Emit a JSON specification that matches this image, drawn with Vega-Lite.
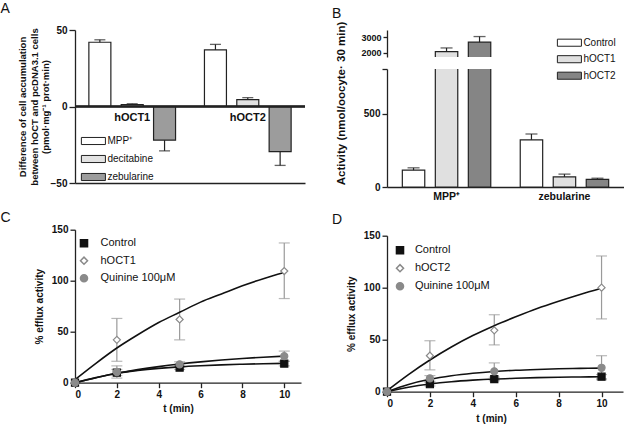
{
  "$schema": "https://vega.github.io/schema/vega-lite/v6.json",
  "padding": {"left": 0, "top": 2, "right": 0, "bottom": 0},
  "config": {
    "view": {"stroke": null},
    "font": "Liberation Sans",
    "axis": {"grid": false, "domainColor": "#222", "domainWidth": 1.3, "tickColor": "#222", "tickWidth": 1.3, "tickSize": 5, "labelFont": "Liberation Sans", "labelFontSize": 10, "labelFontWeight": "bold", "labelColor": "#111", "labelPadding": 2, "titleFont": "Liberation Sans", "titleFontSize": 10, "titleFontWeight": "bold", "titleColor": "#111"},
    "legend": {"labelFont": "Liberation Sans", "labelFontSize": 10, "labelColor": "#111", "padding": 0, "titlePadding": 0},
    "title": {"font": "Liberation Sans", "fontSize": 14, "fontWeight": "normal", "anchor": "start", "frame": "group", "color": "#111"}
  },
  "datasets": {
    "panelA": [
      {"group": "hOCT1", "compound": "MPP⁺", "value": 42, "err": 43.6},
      {"group": "hOCT1", "compound": "decitabine", "value": 1.2, "err": 1.8},
      {"group": "hOCT1", "compound": "zebularine", "value": -22, "err": -29},
      {"group": "hOCT2", "compound": "MPP⁺", "value": 37, "err": 40.6},
      {"group": "hOCT2", "compound": "decitabine", "value": 4.5, "err": 5.8},
      {"group": "hOCT2", "compound": "zebularine", "value": -29.5, "err": -38.5}
    ],
    "panelB": [
      {"compound": "MPP⁺", "cond": "Control", "value": 115, "err": 131},
      {"compound": "MPP⁺", "cond": "hOCT1", "value": 2070, "err": 2310},
      {"compound": "MPP⁺", "cond": "hOCT2", "value": 2680, "err": 3040},
      {"compound": "zebularine", "cond": "Control", "value": 322, "err": 362},
      {"compound": "zebularine", "cond": "hOCT1", "value": 69, "err": 88},
      {"compound": "zebularine", "cond": "hOCT2", "value": 52, "err": 60}
    ],
    "pointsC": [
      {"t": 0, "series": "Control", "mean": 0, "lo": null, "hi": null},
      {"t": 2, "series": "Control", "mean": 9.8, "lo": 7, "hi": 13},
      {"t": 5, "series": "Control", "mean": 14.8, "lo": 13, "hi": 17},
      {"t": 10, "series": "Control", "mean": 18.8, "lo": 16.5, "hi": 21},
      {"t": 0, "series": "hOCT1", "mean": 0, "lo": null, "hi": null},
      {"t": 2, "series": "hOCT1", "mean": 42, "lo": 21, "hi": 63},
      {"t": 5, "series": "hOCT1", "mean": 62, "lo": 42, "hi": 82},
      {"t": 10, "series": "hOCT1", "mean": 109.5, "lo": 82.5, "hi": 137},
      {"t": 0, "series": "Quinine 100μM", "mean": 0, "lo": null, "hi": null},
      {"t": 2, "series": "Quinine 100μM", "mean": 10.5, "lo": 4.5, "hi": 16.5},
      {"t": 5, "series": "Quinine 100μM", "mean": 18, "lo": 15.5, "hi": 20.5},
      {"t": 10, "series": "Quinine 100μM", "mean": 26, "lo": 21, "hi": 31}
    ],
    "curvesC": [
      {"t": 0, "series": "Control", "y": 0}, {"t": 1, "series": "Control", "y": 5}, {"t": 2, "series": "Control", "y": 9.3}, {"t": 3, "series": "Control", "y": 12}, {"t": 4, "series": "Control", "y": 14}, {"t": 5, "series": "Control", "y": 15.5}, {"t": 6, "series": "Control", "y": 16.6}, {"t": 7, "series": "Control", "y": 17.5}, {"t": 8, "series": "Control", "y": 18.1}, {"t": 9, "series": "Control", "y": 18.6}, {"t": 10, "series": "Control", "y": 19},
      {"t": 0, "series": "Quinine 100μM", "y": 0}, {"t": 1, "series": "Quinine 100μM", "y": 4.8}, {"t": 2, "series": "Quinine 100μM", "y": 9.2}, {"t": 3, "series": "Quinine 100μM", "y": 12.8}, {"t": 4, "series": "Quinine 100μM", "y": 15.8}, {"t": 5, "series": "Quinine 100μM", "y": 18.3}, {"t": 6, "series": "Quinine 100μM", "y": 20.4}, {"t": 7, "series": "Quinine 100μM", "y": 22.2}, {"t": 8, "series": "Quinine 100μM", "y": 23.7}, {"t": 9, "series": "Quinine 100μM", "y": 25}, {"t": 10, "series": "Quinine 100μM", "y": 26.1},
      {"t": 0, "series": "hOCT1", "y": 3}, {"t": 1, "series": "hOCT1", "y": 19}, {"t": 2, "series": "hOCT1", "y": 34}, {"t": 3, "series": "hOCT1", "y": 47}, {"t": 4, "series": "hOCT1", "y": 59}, {"t": 5, "series": "hOCT1", "y": 69}, {"t": 6, "series": "hOCT1", "y": 79}, {"t": 7, "series": "hOCT1", "y": 87}, {"t": 8, "series": "hOCT1", "y": 95}, {"t": 9, "series": "hOCT1", "y": 102}, {"t": 10, "series": "hOCT1", "y": 108}
    ],
    "pointsD": [
      {"t": 0, "series": "Control", "mean": 0, "lo": null, "hi": null},
      {"t": 2, "series": "Control", "mean": 7.2, "lo": 5.5, "hi": 9},
      {"t": 5, "series": "Control", "mean": 12.2, "lo": 10.5, "hi": 14},
      {"t": 10, "series": "Control", "mean": 14.4, "lo": 12.5, "hi": 16.5},
      {"t": 0, "series": "hOCT2", "mean": 0, "lo": null, "hi": null},
      {"t": 2, "series": "hOCT2", "mean": 34.6, "lo": 21, "hi": 49},
      {"t": 5, "series": "hOCT2", "mean": 59, "lo": 45, "hi": 74},
      {"t": 10, "series": "hOCT2", "mean": 100, "lo": 70, "hi": 130.5},
      {"t": 0, "series": "Quinine 100μM", "mean": 0, "lo": null, "hi": null},
      {"t": 2, "series": "Quinine 100μM", "mean": 12.8, "lo": 10, "hi": 15.5},
      {"t": 5, "series": "Quinine 100μM", "mean": 19.6, "lo": 11.5, "hi": 27.7},
      {"t": 10, "series": "Quinine 100μM", "mean": 23, "lo": 11.5, "hi": 34.6}
    ],
    "curvesD": [
      {"t": 0, "series": "Control", "y": 0}, {"t": 1, "series": "Control", "y": 4.3}, {"t": 2, "series": "Control", "y": 7.4}, {"t": 3, "series": "Control", "y": 9.6}, {"t": 4, "series": "Control", "y": 11.1}, {"t": 5, "series": "Control", "y": 12.2}, {"t": 6, "series": "Control", "y": 12.9}, {"t": 7, "series": "Control", "y": 13.5}, {"t": 8, "series": "Control", "y": 13.9}, {"t": 9, "series": "Control", "y": 14.2}, {"t": 10, "series": "Control", "y": 14.4},
      {"t": 0, "series": "Quinine 100μM", "y": 0}, {"t": 1, "series": "Quinine 100μM", "y": 7}, {"t": 2, "series": "Quinine 100μM", "y": 11.9}, {"t": 3, "series": "Quinine 100μM", "y": 15.3}, {"t": 4, "series": "Quinine 100μM", "y": 17.7}, {"t": 5, "series": "Quinine 100μM", "y": 19.4}, {"t": 6, "series": "Quinine 100μM", "y": 20.6}, {"t": 7, "series": "Quinine 100μM", "y": 21.4}, {"t": 8, "series": "Quinine 100μM", "y": 22}, {"t": 9, "series": "Quinine 100μM", "y": 22.4}, {"t": 10, "series": "Quinine 100μM", "y": 22.7},
      {"t": 0, "series": "hOCT2", "y": 1}, {"t": 1, "series": "hOCT2", "y": 16.5}, {"t": 2, "series": "hOCT2", "y": 30.5}, {"t": 3, "series": "hOCT2", "y": 43}, {"t": 4, "series": "hOCT2", "y": 54}, {"t": 5, "series": "hOCT2", "y": 63.5}, {"t": 6, "series": "hOCT2", "y": 72}, {"t": 7, "series": "hOCT2", "y": 80}, {"t": 8, "series": "hOCT2", "y": 87}, {"t": 9, "series": "hOCT2", "y": 93.5}, {"t": 10, "series": "hOCT2", "y": 99.5}
    ]
  },
  "spacing": 26,
  "resolve": {"scale": {"x": "independent", "y": "independent", "xOffset": "independent", "fill": "independent", "shape": "independent", "stroke": "independent"}, "legend": {"fill": "independent", "shape": "independent", "stroke": "independent"}},
  "hconcat": [
    {
      "spacing": 22.7,
      "resolve": {"scale": {"x": "independent", "y": "independent", "xOffset": "independent", "fill": "independent", "shape": "independent", "stroke": "independent"}, "legend": {"fill": "independent", "shape": "independent", "stroke": "independent"}},
      "vconcat": [
        {
          "width": 230, "height": 153,
          "title": {"text": "A", "dx": -74.5, "offset": 9},
          "data": {"name": "panelA"},
          "layer": [
            {
              "mark": {"type": "bar", "stroke": "#222", "strokeWidth": 1.2},
              "encoding": {
                "x": {"field": "group", "type": "nominal", "scale": {"paddingInner": 0.25, "paddingOuter": 0.12}, "axis": {"labels": false, "ticks": false, "title": null}},
                "xOffset": {"field": "compound", "type": "nominal", "scale": {"domain": ["MPP⁺", "decitabine", "zebularine"], "paddingInner": 0.32, "paddingOuter": 0}},
                "y": {"field": "value", "type": "quantitative", "scale": {"domain": [-50, 50], "nice": false}, "axis": {"values": [-50, -25, 0, 25, 50], "title": ["Difference of cell accumulation", "between hOCT and pcDNA3.1 cells", "(pmol·mg⁻¹ prot·min)"], "titleFontSize": 9.5, "titleLineHeight": 11.5, "titleX": -52.5, "titleY": 76.5, "titleAlign": "center", "titleBaseline": "middle", "titleAngle": 270, "tickSize": 6}},
                "fill": {"field": "compound", "type": "nominal", "scale": {"domain": ["MPP⁺", "decitabine", "zebularine"], "range": ["#ffffff", "#e2e2e2", "#9c9c9c"]}, "legend": {"title": null, "orient": "none", "legendX": 10.4, "legendY": 103, "symbolType": "M-1.7,-0.5H1.7V0.5H-1.7Z", "symbolSize": 200, "symbolStrokeColor": "#222", "symbolStrokeWidth": 1, "labelOffset": 6, "rowPadding": 4}}
              }
            },
            {
              "mark": {"type": "rule", "color": "#222", "strokeWidth": 1.2},
              "encoding": {
                "x": {"field": "group", "type": "nominal"},
                "xOffset": {"field": "compound", "type": "nominal"},
                "y": {"field": "value", "type": "quantitative"},
                "y2": {"field": "err"}
              }
            },
            {
              "mark": {"type": "tick", "orient": "horizontal", "color": "#222", "size": 11, "thickness": 1.3},
              "encoding": {
                "x": {"field": "group", "type": "nominal"},
                "xOffset": {"field": "compound", "type": "nominal"},
                "y": {"field": "err", "type": "quantitative"}
              }
            },
            {
              "mark": {"type": "rule", "color": "#222", "strokeWidth": 1.3},
              "encoding": {"y": {"datum": 0}}
            },
            {
              "data": {"values": [{"group": "hOCT1"}, {"group": "hOCT2"}]},
              "mark": {"type": "text", "fontWeight": "bold", "fontSize": 11, "baseline": "top", "dy": 5, "color": "#111"},
              "encoding": {"x": {"field": "group", "type": "nominal"}, "y": {"datum": 0}, "text": {"field": "group"}}
            }
          ]
        },
        {
          "width": 226, "height": 153,
          "title": {"text": "C", "dx": -74.5, "offset": 0},
          "layer": [
            {
              "data": {"name": "pointsC"},
              "mark": {"type": "rule", "color": "#9a9a9a", "strokeWidth": 1.2},
              "encoding": {
                "x": {"field": "t", "type": "quantitative", "title": "t (min)", "scale": {"domain": [0, 10.8], "nice": false}, "axis": {"values": [0, 2, 4, 6, 8, 10], "titleX": 103, "titleY": 26, "titleBaseline": "middle", "titleAlign": "center"}},
                "y": {"field": "lo", "type": "quantitative", "title": "% efflux activity", "scale": {"domain": [0, 150], "nice": false}, "axis": {"values": [0, 50, 100, 150], "titleX": -36, "titleY": 76.5, "titleAlign": "center", "titleBaseline": "middle", "titleAngle": 270}},
                "y2": {"field": "hi"}
              }
            },
            {
              "data": {"name": "pointsC"},
              "mark": {"type": "tick", "orient": "horizontal", "color": "#9a9a9a", "size": 11, "thickness": 1.2},
              "encoding": {"x": {"field": "t", "type": "quantitative", "title": "t (min)"}, "y": {"field": "hi", "type": "quantitative", "title": "% efflux activity"}}
            },
            {
              "data": {"name": "pointsC"},
              "mark": {"type": "tick", "orient": "horizontal", "color": "#9a9a9a", "size": 11, "thickness": 1.2},
              "encoding": {"x": {"field": "t", "type": "quantitative", "title": "t (min)"}, "y": {"field": "lo", "type": "quantitative", "title": "% efflux activity"}}
            },
            {
              "data": {"name": "curvesC"},
              "mark": {"type": "line", "color": "#111", "strokeWidth": 1.6, "interpolate": "monotone"},
              "encoding": {"x": {"field": "t", "type": "quantitative", "title": "t (min)"}, "y": {"field": "y", "type": "quantitative", "title": "% efflux activity"}, "detail": {"field": "series"}}
            },
            {
              "data": {"name": "pointsC"},
              "mark": {"type": "point", "filled": true, "opacity": 1, "strokeWidth": 1.2, "size": 50},
              "encoding": {
                "x": {"field": "t", "type": "quantitative", "title": "t (min)"},
                "y": {"field": "mean", "type": "quantitative", "title": "% efflux activity"},
                "shape": {"field": "series", "type": "nominal", "scale": {"domain": ["Control", "hOCT1", "Quinine 100μM"], "range": ["square", "diamond", "circle"]}, "legend": {"title": null, "orient": "none", "legendX": 3.5, "legendY": 8, "symbolSize": 50, "labelOffset": 11, "rowPadding": 2.5, "labelFontSize": 11}},
                "fill": {"field": "series", "type": "nominal", "scale": {"domain": ["Control", "hOCT1", "Quinine 100μM"], "range": ["#111111", "#ffffff", "#8a8a8a"]}, "legend": {"title": null, "orient": "none", "legendX": 3.5, "legendY": 8, "symbolSize": 50, "labelOffset": 11, "rowPadding": 2.5, "labelFontSize": 11}},
                "stroke": {"field": "series", "type": "nominal", "scale": {"domain": ["Control", "hOCT1", "Quinine 100μM"], "range": ["#111111", "#8a8a8a", "#8a8a8a"]}, "legend": {"title": null, "orient": "none", "legendX": 3.5, "legendY": 8, "symbolSize": 50, "labelOffset": 11, "rowPadding": 2.5, "labelFontSize": 11}}
              }
            }
          ]
        }
      ]
    },
    {
      "spacing": 10.7,
      "resolve": {"scale": {"x": "independent", "y": "independent", "xOffset": "independent", "fill": "independent", "shape": "independent", "stroke": "independent"}, "legend": {"fill": "independent", "shape": "independent", "stroke": "independent"}},
      "vconcat": [
        {
          "spacing": 12,
          "bounds": "flush",
          "resolve": {"scale": {"x": "independent", "y": "independent", "xOffset": "independent", "fill": "independent"}, "legend": {"fill": "independent"}},
          "vconcat": [
            {
              "width": 237, "height": 27,
              "title": {"text": "B", "dx": -55, "offset": 9},
              "data": {"name": "panelB"},
              "layer": [
                {
                  "mark": {"type": "bar", "stroke": "#222", "strokeWidth": 1.2, "clip": true},
                  "encoding": {
                    "x": {"field": "compound", "type": "nominal", "scale": {"paddingInner": 0.25, "paddingOuter": 0.13}, "axis": null},
                    "xOffset": {"field": "cond", "type": "nominal", "scale": {"domain": ["Control", "hOCT1", "hOCT2"], "paddingInner": 0.32, "paddingOuter": 0}},
                    "y": {"field": "value", "type": "quantitative", "scale": {"domain": [1730, 3460], "nice": false, "zero": false}, "axis": {"values": [2000, 3000], "format": "d", "title": null, "labelFontSize": 9, "tickSize": 4}},
                    "y2": {"datum": 0},
                    "fill": {"field": "cond", "type": "nominal", "scale": {"domain": ["Control", "hOCT1", "hOCT2"], "range": ["#ffffff", "#e0e0e0", "#858585"]}, "legend": null}
                  }
                },
                {
                  "mark": {"type": "rule", "color": "#222", "strokeWidth": 1.2, "clip": true},
                  "encoding": {"x": {"field": "compound", "type": "nominal"}, "xOffset": {"field": "cond", "type": "nominal"}, "y": {"field": "value", "type": "quantitative"}, "y2": {"field": "err"}}
                },
                {
                  "mark": {"type": "tick", "orient": "horizontal", "color": "#222", "size": 12, "thickness": 1.3, "clip": true},
                  "encoding": {"x": {"field": "compound", "type": "nominal"}, "xOffset": {"field": "cond", "type": "nominal"}, "y": {"field": "err", "type": "quantitative"}}
                }
              ]
            },
            {
              "width": 237, "height": 118,
              "data": {"name": "panelB"},
              "layer": [
                {
                  "mark": {"type": "bar", "stroke": "#222", "strokeWidth": 1.2, "clip": true},
                  "encoding": {
                    "x": {"field": "compound", "type": "nominal", "scale": {"paddingInner": 0.25, "paddingOuter": 0.13}, "axis": {"title": null, "ticks": false, "labelPadding": 4, "labelAngle": 0, "labelFontSize": 10.5}},
                    "xOffset": {"field": "cond", "type": "nominal", "scale": {"domain": ["Control", "hOCT1", "hOCT2"], "paddingInner": 0.32, "paddingOuter": 0}},
                    "y": {"field": "value", "type": "quantitative", "scale": {"domain": [0, 806], "nice": false}, "axis": {"values": [0, 500, 806], "format": "d", "labelExpr": "datum.value == 806 ? '' : datum.label", "title": "Activity (nmol/oocyte· 30 min)", "titleFontSize": 11.5, "titleX": -45.5, "titleY": 34, "titleAlign": "center", "titleBaseline": "middle", "titleAngle": 270}},
                    "fill": {"field": "cond", "type": "nominal", "scale": {"domain": ["Control", "hOCT1", "hOCT2"], "range": ["#ffffff", "#e0e0e0", "#858585"]}, "legend": {"title": null, "orient": "none", "legendX": 174.4, "legendY": -34.3, "symbolType": "M-1.7,-0.5H1.7V0.5H-1.7Z", "symbolSize": 200, "symbolStrokeColor": "#222", "symbolStrokeWidth": 1, "labelOffset": 6, "rowPadding": 2.5}}
                  }
                },
                {
                  "mark": {"type": "rule", "color": "#222", "strokeWidth": 1.2, "clip": true},
                  "encoding": {"x": {"field": "compound", "type": "nominal"}, "xOffset": {"field": "cond", "type": "nominal"}, "y": {"field": "value", "type": "quantitative"}, "y2": {"field": "err"}}
                },
                {
                  "mark": {"type": "tick", "orient": "horizontal", "color": "#222", "size": 12, "thickness": 1.3, "clip": true},
                  "encoding": {"x": {"field": "compound", "type": "nominal"}, "xOffset": {"field": "cond", "type": "nominal"}, "y": {"field": "err", "type": "quantitative"}}
                }
              ]
            }
          ]
        },
        {
          "width": 236, "height": 156,
          "title": {"text": "D", "dx": -55, "offset": 4},
          "layer": [
            {
              "data": {"name": "pointsD"},
              "mark": {"type": "rule", "color": "#9a9a9a", "strokeWidth": 1.2},
              "encoding": {
                "x": {"field": "t", "type": "quantitative", "title": "t (min)", "scale": {"domain": [0, 11], "nice": false}, "axis": {"values": [0, 2, 4, 6, 8, 10], "titleX": 104, "titleY": 27, "titleBaseline": "middle", "titleAlign": "center"}},
                "y": {"field": "lo", "type": "quantitative", "title": "% efflux activity", "scale": {"domain": [0, 150], "nice": false}, "axis": {"values": [0, 50, 100, 150], "titleX": -36, "titleY": 78, "titleAlign": "center", "titleBaseline": "middle", "titleAngle": 270}},
                "y2": {"field": "hi"}
              }
            },
            {
              "data": {"name": "pointsD"},
              "mark": {"type": "tick", "orient": "horizontal", "color": "#9a9a9a", "size": 11, "thickness": 1.2},
              "encoding": {"x": {"field": "t", "type": "quantitative", "title": "t (min)"}, "y": {"field": "hi", "type": "quantitative", "title": "% efflux activity"}}
            },
            {
              "data": {"name": "pointsD"},
              "mark": {"type": "tick", "orient": "horizontal", "color": "#9a9a9a", "size": 11, "thickness": 1.2},
              "encoding": {"x": {"field": "t", "type": "quantitative", "title": "t (min)"}, "y": {"field": "lo", "type": "quantitative", "title": "% efflux activity"}}
            },
            {
              "data": {"name": "curvesD"},
              "mark": {"type": "line", "color": "#111", "strokeWidth": 1.6, "interpolate": "monotone"},
              "encoding": {"x": {"field": "t", "type": "quantitative", "title": "t (min)"}, "y": {"field": "y", "type": "quantitative", "title": "% efflux activity"}, "detail": {"field": "series"}}
            },
            {
              "data": {"name": "pointsD"},
              "mark": {"type": "point", "filled": true, "opacity": 1, "strokeWidth": 1.2, "size": 50},
              "encoding": {
                "x": {"field": "t", "type": "quantitative", "title": "t (min)"},
                "y": {"field": "mean", "type": "quantitative", "title": "% efflux activity"},
                "shape": {"field": "series", "type": "nominal", "scale": {"domain": ["Control", "hOCT2", "Quinine 100μM"], "range": ["square", "diamond", "circle"]}, "legend": {"title": null, "orient": "none", "legendX": 7.5, "legendY": 9, "symbolSize": 50, "labelOffset": 9.4, "rowPadding": 3, "labelFontSize": 11}},
                "fill": {"field": "series", "type": "nominal", "scale": {"domain": ["Control", "hOCT2", "Quinine 100μM"], "range": ["#111111", "#ffffff", "#8a8a8a"]}, "legend": {"title": null, "orient": "none", "legendX": 7.5, "legendY": 9, "symbolSize": 50, "labelOffset": 9.4, "rowPadding": 3, "labelFontSize": 11}},
                "stroke": {"field": "series", "type": "nominal", "scale": {"domain": ["Control", "hOCT2", "Quinine 100μM"], "range": ["#111111", "#8a8a8a", "#8a8a8a"]}, "legend": {"title": null, "orient": "none", "legendX": 7.5, "legendY": 9, "symbolSize": 50, "labelOffset": 9.4, "rowPadding": 3, "labelFontSize": 11}}
              }
            }
          ]
        }
      ]
    }
  ]
}
